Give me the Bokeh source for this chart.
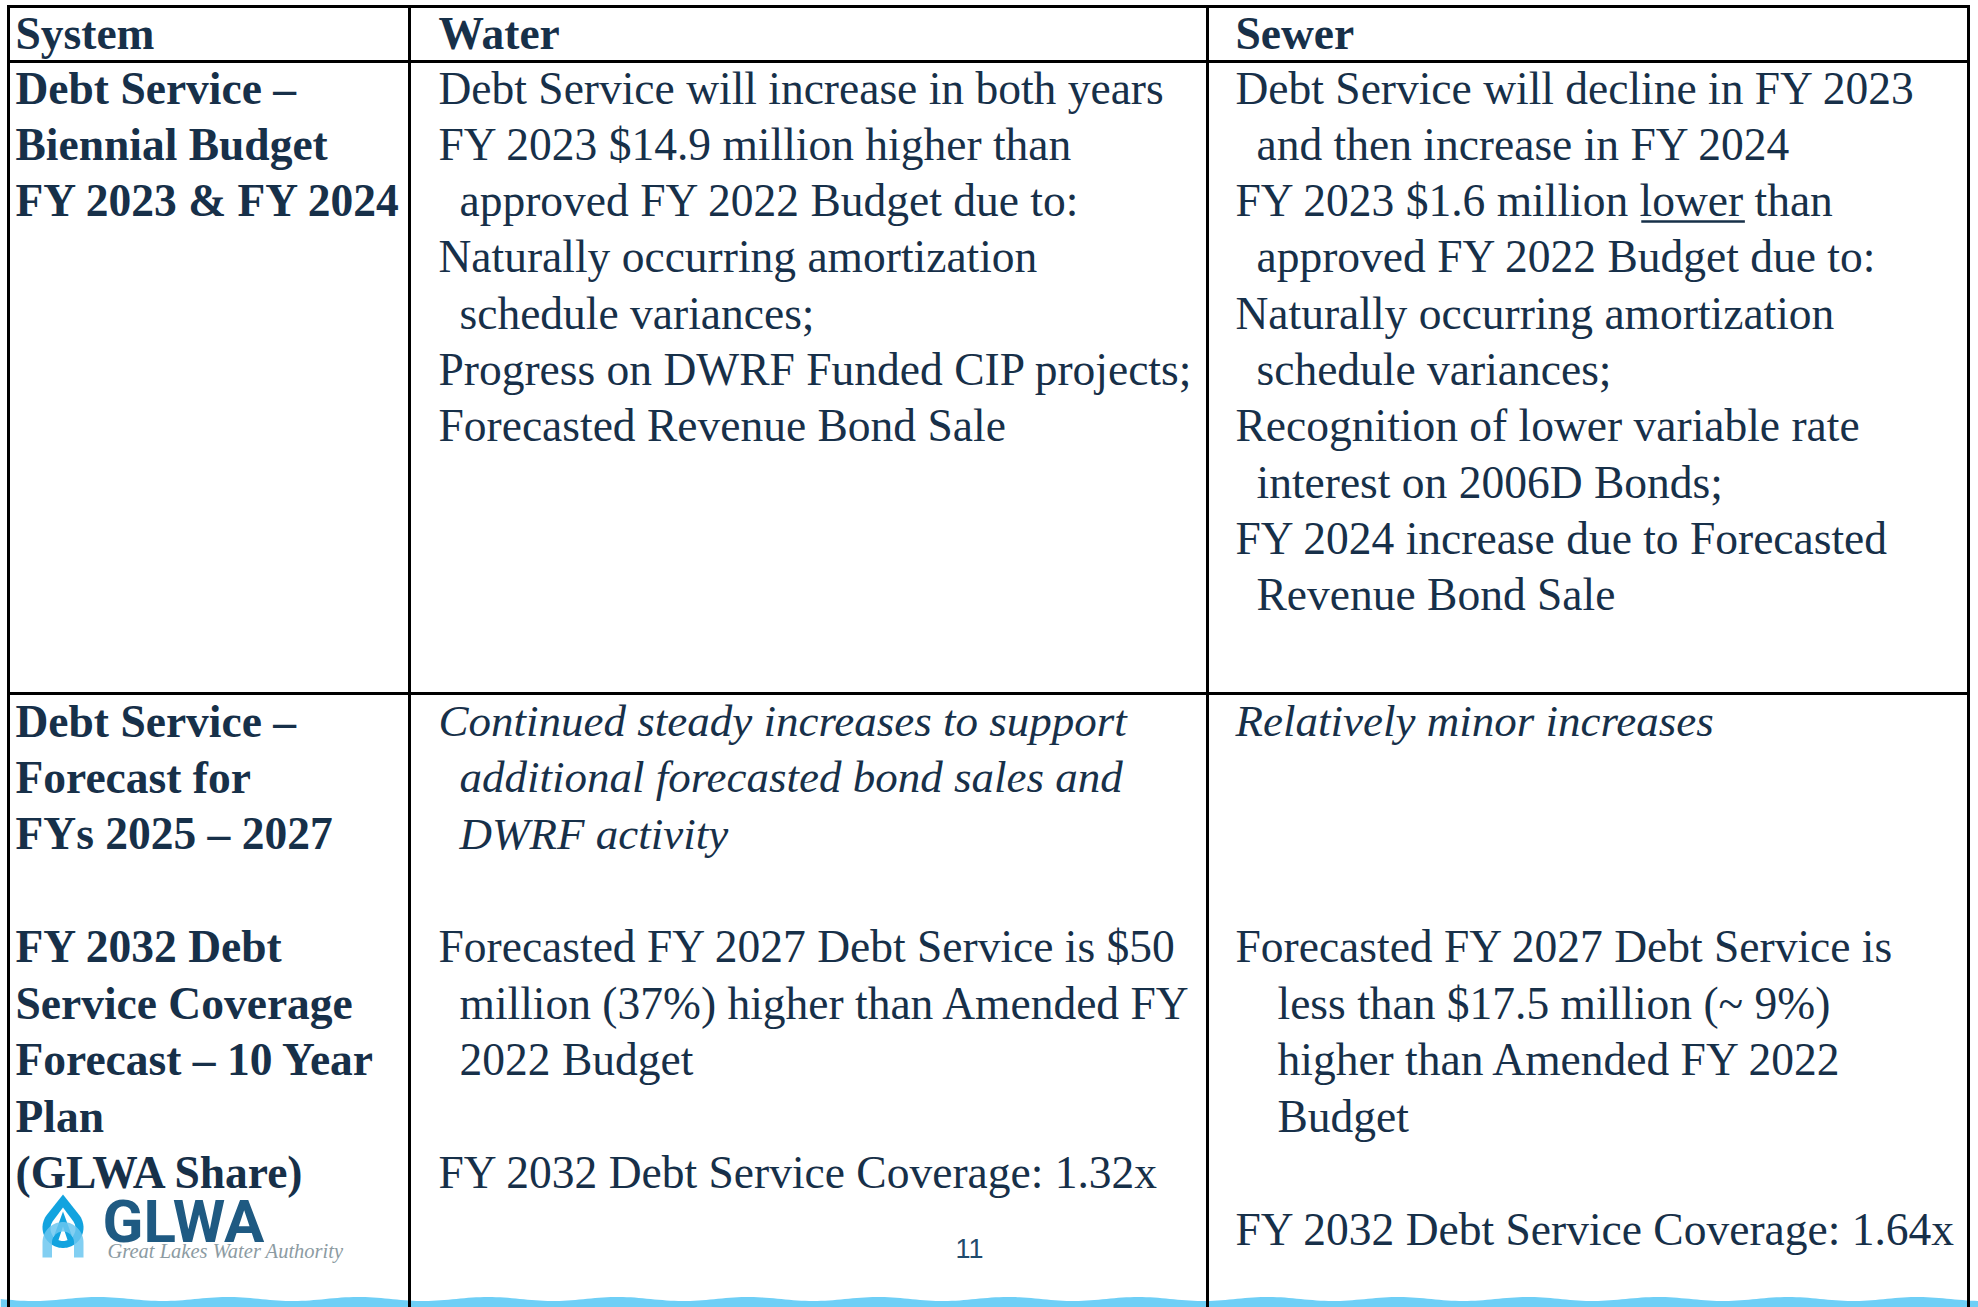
from bokeh.plotting import figure
from bokeh.models import Range1d, ColumnDataSource
from bokeh.core.properties import value
from bokeh.embed import file_html
from bokeh.resources import INLINE
import numpy as np

# ---------------- content ----------------
HEADERS = ["System", "Water", "Sewer"]

SYSTEM_S1 = ["Debt Service \u2013", "Biennial Budget", "FY 2023 & FY 2024"]
SYSTEM_S2 = ["Debt Service \u2013", "Forecast for", "FYs 2025 \u2013 2027", "",
             "FY 2032 Debt", "Service Coverage", "Forecast \u2013 10 Year", "Plan",
             "(GLWA Share)"]

WATER_S1 = ["Debt Service will increase in both years",
            "FY 2023 $14.9 million higher than",
            "approved FY 2022 Budget due to:",
            "Naturally occurring amortization",
            "schedule variances;",
            "Progress on DWRF Funded CIP projects;",
            "Forecasted Revenue Bond Sale"]
WATER_S1_IND = [0, 0, 1, 0, 1, 0, 0]

SEWER_S1 = ["Debt Service will decline in FY 2023",
            "and then increase in FY 2024",
            "FY 2023 $1.6 million lower than",
            "approved FY 2022 Budget due to:",
            "Naturally occurring amortization",
            "schedule variances;",
            "Recognition of lower variable rate",
            "interest on 2006D Bonds;",
            "FY 2024 increase due to Forecasted",
            "Revenue Bond Sale"]
SEWER_S1_IND = [0, 1, 0, 1, 0, 1, 0, 1, 0, 1]
UNDERLINED_LINE = 2
UNDERLINED_WORD = "lower"

WATER_S2_ITALIC = ["Continued steady increases to support",
                   "additional forecasted bond sales and",
                   "DWRF activity"]
WATER_S2_ITALIC_IND = [0, 1, 1]
WATER_S2 = ["Forecasted FY 2027 Debt Service is $50",
            "million (37%) higher than Amended FY",
            "2022 Budget"]
WATER_S2_IND = [0, 1, 1]
WATER_COVERAGE = "FY 2032 Debt Service Coverage:  1.32x"

SEWER_S2_ITALIC = ["Relatively minor increases"]
SEWER_S2 = ["Forecasted FY 2027 Debt Service is",
            "less than $17.5 million (~ 9%)",
            "higher than Amended FY 2022",
            "Budget"]
SEWER_S2_IND = [0, 2, 2, 2]
SEWER_COVERAGE = "FY 2032 Debt Service Coverage:  1.64x"

LOGO_TEXT = "GLWA"
LOGO_TAG = "Great Lakes Water Authority"
PAGE_NUM = "11"

# ---------------- layout ----------------
W, H = 1978, 1307
COL_X = [15, 438, 1235]
INDENT = 21
HEAD_BASE = 33
S1_BASE, S1_STEP = 87.5, 56.3
S2_BASE, S2_STEP = 720.5, 56.45
TEXT = "#173049"
FONT = "Liberation Serif"
FS_PX = 45.5
FS = "%.1fpx" % FS_PX
FS_B = "45.5px"
FS_I = "45px"

# Liberation Serif (Times metric compatible) advance widths, per 1000 em
TIMES_W = {" ": 250, "F": 556, "Y": 722, "$": 500, ".": 250, "m": 778, "i": 278,
           "l": 278, "o": 500, "n": 500, "w": 722, "e": 444, "r": 333}
for d in "0123456789":
    TIMES_W[d] = 500


def tw(s, size):
    return sum(TIMES_W.get(c, 500) for c in s) * size / 1000.0


p = figure(width=W, height=H, x_range=Range1d(0, W), y_range=Range1d(H, 0),
           output_backend="svg", toolbar_location=None, min_border=0,
           background_fill_color="white", border_fill_color="white")
p.axis.visible = False
p.grid.visible = False
p.outline_line_color = None


def put(xs, ys, texts, style="normal", size=FS, color=TEXT, font=FONT, align="left"):
    src = ColumnDataSource(dict(x=list(xs), y=list(ys), t=list(texts)))
    p.text(x="x", y="y", text="t", source=src, text_font=value(font),
           text_font_size=size, text_font_style=style, text_color=color,
           text_baseline="alphabetic", text_align=align)


# ---------------- wave decoration ----------------
wx = np.linspace(0, W, 500)
wy_top = 1298.5 + 2.0 * np.sin(wx / 130.0 * 2 * np.pi)
p.patch(list(wx) + [W, 0], list(wy_top) + [H + 5, H + 5],
        fill_color="#6FCFF6", line_color=None)

# ---------------- table lines ----------------
LX = [8, 409, 1207, 1968]
LY = [6, 61, 693]
p.segment(x0=LX, y0=[4.5] * 4, x1=LX, y1=[H + 2] * 4, line_color="black", line_width=3)
p.segment(x0=[6.5] * 3, y0=LY, x1=[1969.5] * 3, y1=LY, line_color="black", line_width=3)

# ---------------- header ----------------
put(COL_X, [HEAD_BASE] * 3, HEADERS, style="bold", size=FS_B)

# ---------------- section 1 ----------------
put([COL_X[0]] * len(SYSTEM_S1), [S1_BASE + i * S1_STEP for i in range(len(SYSTEM_S1))],
    SYSTEM_S1, style="bold", size=FS_B)
put([COL_X[1] + INDENT * k for k in WATER_S1_IND],
    [S1_BASE + i * S1_STEP for i in range(len(WATER_S1))], WATER_S1)
put([COL_X[2] + INDENT * k for k in SEWER_S1_IND],
    [S1_BASE + i * S1_STEP for i in range(len(SEWER_S1))], SEWER_S1)

# underline under "lower"
ul_line = SEWER_S1[UNDERLINED_LINE]
pre = ul_line[:ul_line.index(UNDERLINED_WORD)]
ux0 = COL_X[2] + INDENT * SEWER_S1_IND[UNDERLINED_LINE] + tw(pre, FS_PX)
ux1 = ux0 + tw(UNDERLINED_WORD, FS_PX)
uy = 221
p.segment(x0=[ux0], y0=[uy], x1=[ux1], y1=[uy], line_color=TEXT, line_width=2.5)

# ---------------- section 2 ----------------
sidx = [i for i, t in enumerate(SYSTEM_S2) if t]
put([COL_X[0]] * len(sidx), [S2_BASE + i * S2_STEP for i in sidx],
    [SYSTEM_S2[i] for i in sidx], style="bold", size=FS_B)
put([COL_X[1] + INDENT * k for k in WATER_S2_ITALIC_IND],
    [S2_BASE + i * S2_STEP for i in range(3)], WATER_S2_ITALIC, style="italic", size=FS_I)
put([COL_X[1] + INDENT * k for k in WATER_S2_IND],
    [S2_BASE + (4 + i) * S2_STEP for i in range(3)], WATER_S2)
put([COL_X[1]], [S2_BASE + 8 * S2_STEP], [WATER_COVERAGE])

put([COL_X[2]], [S2_BASE], SEWER_S2_ITALIC, style="italic", size=FS_I)
put([COL_X[2] + INDENT * k for k in SEWER_S2_IND],
    [S2_BASE + (4 + i) * S2_STEP for i in range(4)], SEWER_S2)
put([COL_X[2]], [S2_BASE + 9 * S2_STEP], [SEWER_COVERAGE])


# ---------------- logo ----------------
def drop(cx, cy, r, tipy, n=60):
    d = cy - tipy
    th = np.degrees(np.arccos(r / d))
    phi = np.radians(np.linspace(th, 360 - th, n))
    xs = [cx] + list(cx + r * np.sin(phi))
    ys = [tipy] + list(cy - r * np.cos(phi))
    return xs, ys


cx, cy = 62.5, 1227
ax, ay = drop(cx, cy, 20.5, 1194)
p.patch(ax, ay, fill_color="#12A3DF", line_color=None)
bx, by = drop(cx, cy + 1, 12.5, 1207)
p.patch(bx, by, fill_color="white", line_color=None)
# inner peak
p.patch([cx, cx - 11, cx - 5, cx, cx + 5, cx + 11],
        [1211, 1241, 1241, 1226, 1241, 1241],
        fill_color="#12A3DF", line_color=None)
# light arch below
ang = np.radians(np.linspace(180, 360, 40))
acy = 1242
ox_ = list(cx + 20.5 * np.cos(ang))
oy_ = list(acy + 20.5 * np.sin(ang))
ix_ = list(cx + 11 * np.cos(ang[::-1]))
iy_ = list(acy + 11 * np.sin(ang[::-1]))
arch_x = [cx - 20.5] + ox_ + [cx + 20.5, cx + 11] + ix_ + [cx - 11]
arch_y = [1257] + oy_ + [1257, 1257] + iy_ + [1257]
p.patch(arch_x, arch_y, fill_color="#6CC7F0", fill_alpha=0.85, line_color=None)

put([102], [1221], [LOGO_TEXT], style="bold", size="60px", color="#1F5A82", font="Roboto")
put([107], [1250], [LOGO_TAG], style="italic", size="20.5px", color="#8C9BA2", font=FONT)
put([969], [1248], [PAGE_NUM], size="27px", color="#1F4A6C", font="Liberation Sans", align="center")

open("out.html", "w").write(file_html(p, INLINE))
